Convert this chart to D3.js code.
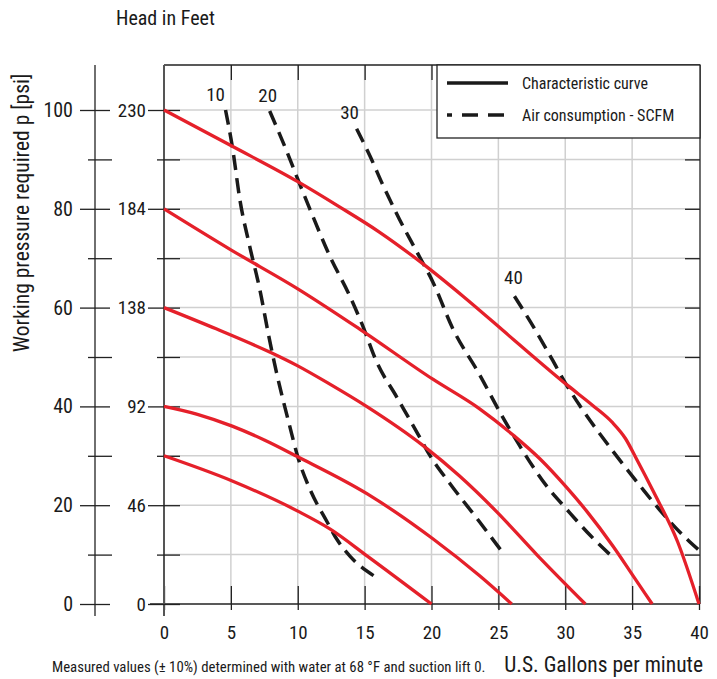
<!DOCTYPE html>
<html lang="en">
<head>
<meta charset="utf-8">
<title>Pump characteristic curves</title>
<script src="https://cdnjs.cloudflare.com/ajax/libs/d3/7.8.5/d3.min.js"></script>
<style>
  body { margin: 0; background: #fff; }
  svg { display: block; }
  text { font-family: "Liberation Sans Narrow", "Arial Narrow", "Roboto Condensed", "Liberation Sans", sans-serif; fill: #1a1a1a; }
  .grid line { stroke: #d0d0d0; stroke-width: 1.5; }
  .axis path, .axis line { stroke: #222; stroke-width: 1.3; fill: none; }
  .axis text { font-size: 19px; }
</style>
</head>
<body>
<script>
// axis values
var gpmTicks = [0, 5, 10, 15, 20, 25, 30, 35, 40];
var psiTicks = [0, 20, 40, 60, 80, 100];
var psiMinor = [10, 30, 50, 70, 90];
var headTicks = [0, 46, 92, 138, 184, 230];

// characteristic curves [gpm, psi]
var curve100 = [[0,100],[5,92.8],[10,85.5],[13,80.6],[16.1,75.3],[19.1,69.4],[22.4,62.2],[26.1,53.6],[30.2,44.2],[32.1,40.1],[33.5,36.8],[34.5,33.5],[35.3,29.5],[36.6,22.7],[38.4,12.6],[40,0]];
var curve80 = [[0,80],[5,71.7],[10,63.8],[14.6,55.7],[20.1,45.5],[23.6,39.5],[26.1,34.2],[28.1,29.4],[30.1,23.6],[31.6,18.8],[33.6,11.6],[35.1,5.6],[36.5,0]];
var curve60 = [[0,60],[3.9,55.7],[7.9,51],[10,48.2],[12.4,44.5],[15.2,39.9],[19.4,32],[22.1,25.9],[24.9,18.6],[27.9,9.9],[31.5,0]];
var curve40 = [[0,40],[2.5,38.4],[5.1,36],[7.5,33.2],[10,29.8],[15.2,22.3],[20.1,13.2],[23.6,5.7],[26,0]];
var curve30 = [[0,30],[5.1,24.9],[10,18.8],[12.4,15.2],[15.2,9.7],[20,0]];

// air consumption lines (SCFM) [gpm, psi]
var air10 = [[4.6,100],[5.1,92.7],[5.7,81.4],[6.4,72.5],[7.2,63.2],[7.8,54.7],[8.4,47],[9.4,36],[10,29.8],[10.9,23.3],[12.2,16.6],[12.9,13.2],[13.9,9.7],[15.8,5.5]];
var air20 = [[7.9,99.8],[9.2,91.5],[10,86],[10.9,80],[12.4,70.4],[13.9,62.3],[14.8,56.7],[15.9,49],[17.4,41.9],[18.9,34.8],[19.9,30],[21.4,24.3],[23.6,16.6],[25.3,10.5]];
var air30 = [[14.4,96.2],[15.4,90.7],[16.4,84.6],[17.6,77.9],[18.9,71.3],[20.1,65.2],[21.6,55.7],[23.6,46.4],[25.1,38.9],[26.6,32],[28.6,23.9],[30.1,19.2],[31.9,13.8],[33.7,9.1]];
var air40 = [[26.2,62.3],[27.4,57.1],[29,49.6],[30.1,44.3],[31.1,40.1],[33.6,30.8],[35.6,23.9],[37.2,18.6],[39.3,12.6],[40,10.9]];

var airLabels = ["10", "20", "30", "40"];

var curves = [curve100, curve80, curve60, curve40, curve30];
var airLines = [air10, air20, air30, air40];

var W = 717, H = 679;
var plotLeft = 164, plotRight = 699, plotTop = 65, plotBottom = 604;

var svg = d3.select("body").append("svg")
  .attr("width", W)
  .attr("height", H);

var x = d3.scaleLinear().domain([0, 40]).range([plotLeft, plotRight]);
var y = d3.scaleLinear().domain([0, 100]).range([plotBottom, 110]);
var yHead = d3.scaleLinear().domain([0, 230]).range([plotBottom, 110]);

// grid
var grid = svg.append("g").attr("class", "grid");
grid.selectAll(".gx")
  .data(gpmTicks.slice(1, -1))
  .enter().append("line")
  .attr("x1", function(d) { return x(d); })
  .attr("x2", function(d) { return x(d); })
  .attr("y1", plotTop).attr("y2", plotBottom);
grid.selectAll(".gy")
  .data(d3.range(10, 101, 10))
  .enter().append("line")
  .attr("x1", plotLeft).attr("x2", plotRight)
  .attr("y1", function(d) { return y(d); })
  .attr("y2", function(d) { return y(d); });

// frame: top + right
svg.append("line").attr("x1", plotLeft).attr("x2", plotRight + 1).attr("y1", plotTop).attr("y2", plotTop)
  .attr("stroke", "#222").attr("stroke-width", 1.3);
svg.append("line").attr("x1", plotRight + 1).attr("x2", plotRight + 1).attr("y1", plotTop).attr("y2", plotBottom)
  .attr("stroke", "#222").attr("stroke-width", 1.3);

// inward ticks on top and right
svg.append("g").attr("class", "axis")
  .attr("transform", "translate(0," + plotTop + ")")
  .call(d3.axisTop(x).tickValues(gpmTicks.slice(1, -1)).tickSize(-15).tickFormat(""))
  .select(".domain").remove();
svg.append("g").attr("class", "axis")
  .attr("transform", "translate(" + (plotRight + 1) + ",0)")
  .call(d3.axisRight(y).tickValues(d3.range(10, 101, 10)).tickSize(-15).tickFormat(""))
  .select(".domain").remove();

// bottom axis (gpm)
var xAxis = svg.append("g").attr("class", "axis")
  .attr("transform", "translate(0," + plotBottom + ")")
  .call(d3.axisBottom(x).tickValues(gpmTicks).tickSize(6).tickPadding(16));
xAxis.select(".domain").attr("d", "M" + (plotLeft - 14) + ",0H" + (plotRight + 1));
xAxis.selectAll(".tick line").attr("y1", -18).attr("y2", 6);
xAxis.selectAll(".tick text").attr("dy", "0.71em");

// left border of plot (head axis line)
svg.append("line").attr("x1", plotLeft).attr("x2", plotLeft).attr("y1", plotTop).attr("y2", plotBottom + 12)
  .attr("stroke", "#555").attr("stroke-width", 2);

// head in feet axis
var headAxis = svg.append("g").attr("class", "axis")
  .attr("transform", "translate(" + plotLeft + ",0)")
  .call(d3.axisLeft(yHead).tickValues(headTicks).tickSize(16).tickPadding(3));
headAxis.select(".domain").remove();
headAxis.selectAll(".tick line").attr("x2", 16).attr("x1", -16);
headAxis.selectAll(".tick text").attr("x", -18);
var headMinor = svg.append("g").attr("class", "axis")
  .attr("transform", "translate(" + plotLeft + ",0)")
  .call(d3.axisLeft(y).tickValues(psiMinor).tickSize(0).tickFormat(""));
headMinor.select(".domain").remove();
headMinor.selectAll(".tick line").attr("x1", -7).attr("x2", 16);

// psi axis
var psiX = 95;
svg.append("line").attr("x1", psiX).attr("x2", psiX).attr("y1", plotTop).attr("y2", plotBottom + 12)
  .attr("stroke", "#222").attr("stroke-width", 1.3);
var psiAxis = svg.append("g").attr("class", "axis")
  .attr("transform", "translate(" + psiX + ",0)")
  .call(d3.axisLeft(y).tickValues(psiTicks).tickSize(15).tickPadding(6));
psiAxis.select(".domain").remove();
psiAxis.selectAll(".tick line").attr("x1", -15).attr("x2", 15);
psiAxis.selectAll(".tick text").attr("x", -22).style("font-size", "20px");
var psiMinorAxis = svg.append("g").attr("class", "axis")
  .attr("transform", "translate(" + psiX + ",0)")
  .call(d3.axisLeft(y).tickValues(psiMinor).tickSize(0).tickFormat(""));
psiMinorAxis.select(".domain").remove();
psiMinorAxis.selectAll(".tick line").attr("x1", -7).attr("x2", 17);

// lines
var line = d3.line()
  .x(function(d) { return x(d[0]); })
  .y(function(d) { return y(d[1]); })
  .curve(d3.curveMonotoneX);

svg.append("g").selectAll("path")
  .data(airLines)
  .enter().append("path")
  .attr("d", line)
  .attr("fill", "none")
  .attr("stroke", "#1a1a1a")
  .attr("stroke-width", 3.5)
  .attr("stroke-dasharray", "15,8");

svg.append("g").selectAll("path")
  .data(curves)
  .enter().append("path")
  .attr("d", line)
  .attr("fill", "none")
  .attr("stroke", "#e5202a")
  .attr("stroke-width", 3.3);

// air line labels, placed just above each line's first point
var labelDx = [-10, -2, -7, -1];
var labelDy = [-9, -9, -10, -12];
svg.append("g").selectAll("text")
  .data(airLines)
  .enter().append("text")
  .attr("x", function(d, i) { return x(d[0][0]) + labelDx[i]; })
  .attr("y", function(d, i) { return y(d[0][1]) + labelDy[i]; })
  .attr("text-anchor", "middle")
  .attr("font-size", 19)
  .text(function(d, i) { return airLabels[i]; });

// legend
var lg = svg.append("g").attr("transform", "translate(437," + plotTop + ")");
lg.append("rect").attr("width", 263).attr("height", 73)
  .attr("fill", "#fff").attr("stroke", "#222").attr("stroke-width", 1.3);
lg.append("line").attr("x1", 10).attr("x2", 71).attr("y1", 18).attr("y2", 18)
  .attr("stroke", "#1a1a1a").attr("stroke-width", 3.3);
lg.append("line").attr("x1", 10).attr("x2", 71).attr("y1", 50).attr("y2", 50)
  .attr("stroke", "#1a1a1a").attr("stroke-width", 3.3)
  .attr("stroke-dasharray", "16,10").attr("stroke-dashoffset", 11);
lg.append("text").attr("x", 85).attr("y", 18).attr("dy", "0.35em")
  .attr("font-size", 16).text("Characteristic curve");
lg.append("text").attr("x", 85).attr("y", 50).attr("dy", "0.35em")
  .attr("font-size", 16).text("Air consumption - SCFM");

// titles
svg.append("text").attr("x", 116).attr("y", 25)
  .attr("font-size", 20).text("Head in Feet");
svg.append("text")
  .attr("transform", "translate(29,213) rotate(-90)")
  .attr("text-anchor", "middle")
  .attr("font-size", 21.5)
  .text("Working pressure required p [psi]");
svg.append("text").attr("x", 703).attr("y", 672)
  .attr("text-anchor", "end")
  .attr("font-size", 21.5).text("U.S. Gallons per minute");
svg.append("text").attr("x", 52).attr("y", 672)
  .attr("font-size", 14.8)
  .text("Measured values (\u00b1 10%) determined with water at 68 \u00b0F and suction lift 0.");
</script>
</body>
</html>
